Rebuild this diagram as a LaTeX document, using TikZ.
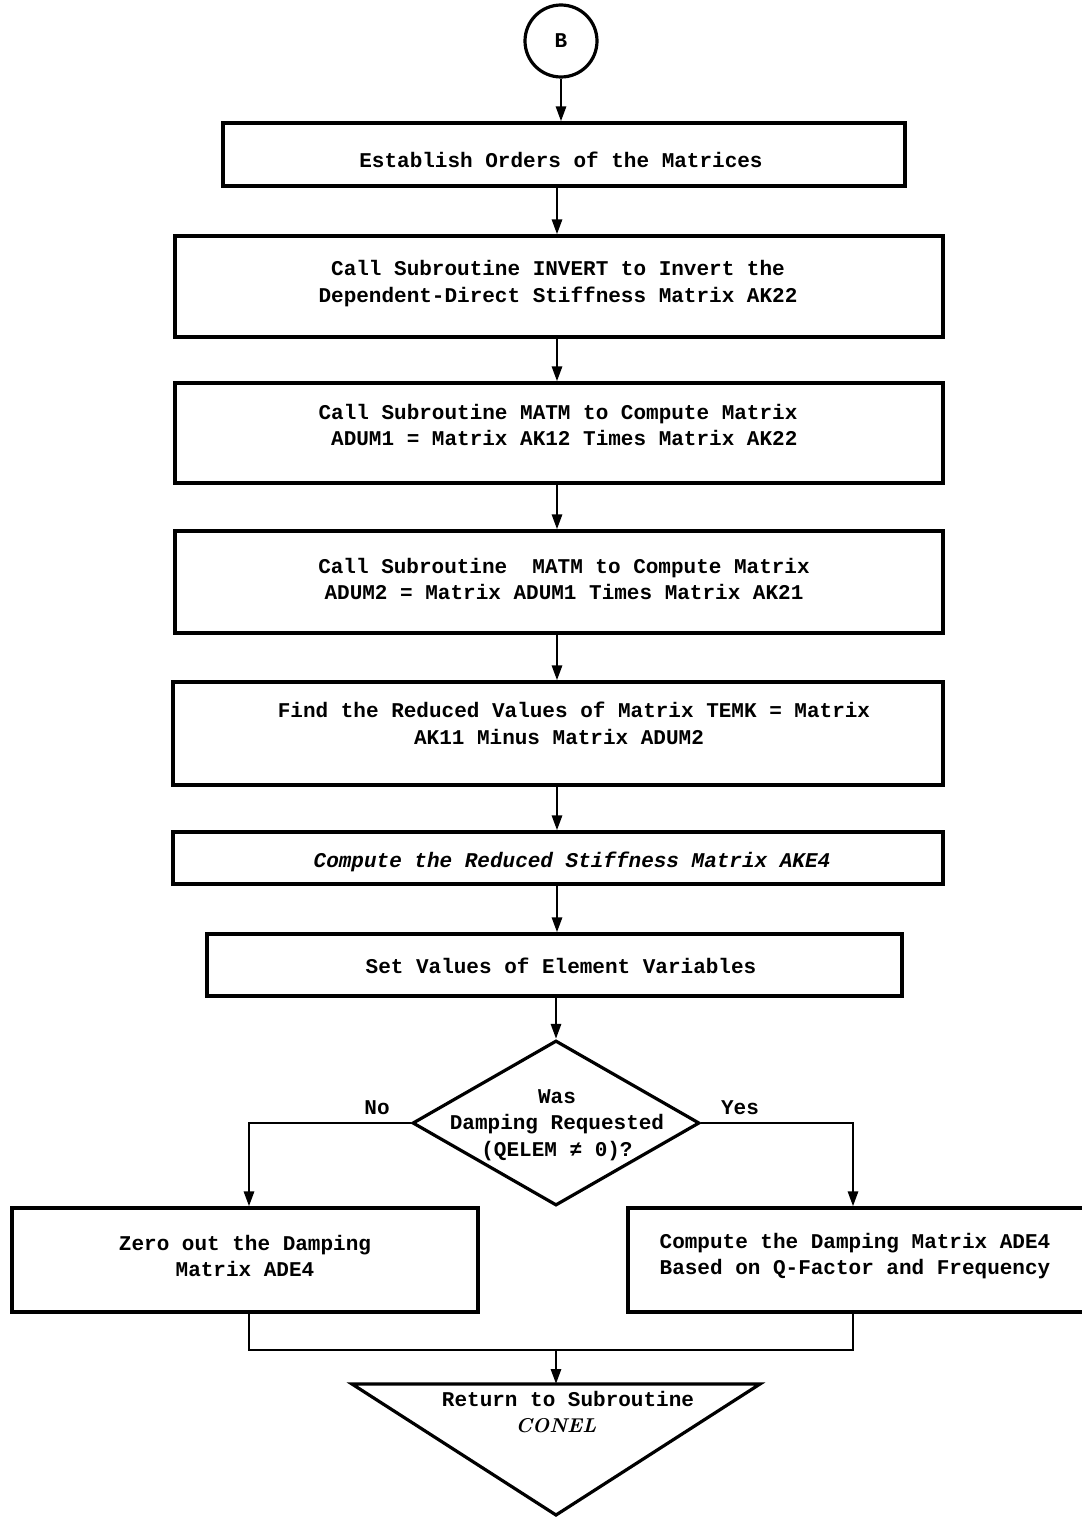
\documentclass[tikz,border=0pt]{standalone}
\usepackage{fontspec}
\setmonofont{Liberation Mono}
\usetikzlibrary{shapes.geometric,arrows.meta}
\begin{document}
\begin{tikzpicture}[x=1pt,y=-1pt,
  box/.style={draw, line width=3.2pt, rectangle, inner sep=0pt},
  txt/.style={font=\ttfamily\bfseries\fontsize{21}{26.5}\selectfont, align=center, inner sep=0pt},
  itxt/.style={font=\ttfamily\bfseries\itshape\fontsize{21}{26.5}\selectfont, align=center, inner sep=0pt},
  arr/.style={line width=2.8pt, -{Triangle[length=15pt,width=10pt]}},
  ln/.style={line width=2.8pt}]
\useasboundingbox (0,0) rectangle (1081,1517);
\coordinate (spine) at (557,0);
% connector node
\node[draw, circle, line width=3.2pt, minimum size=72pt, inner sep=0pt, font=\ttfamily\bfseries\fontsize{21}{26}\selectfont] (B) at (561,41) {B};
% boxes
\node[box, minimum width=682pt, minimum height=63pt] (b1) at (564,154.5) {};
\node[box, minimum width=768pt, minimum height=101pt] (b2) at (559,286.5) {};
\node[box, minimum width=768pt, minimum height=100pt] (b3) at (559,433) {};
\node[box, minimum width=768pt, minimum height=102pt] (b4) at (559,582) {};
\node[box, minimum width=770pt, minimum height=103pt] (b5) at (558,733.5) {};
\node[box, minimum width=770pt, minimum height=52pt] (b6) at (558,858) {};
\node[box, minimum width=695pt, minimum height=62pt] (b7) at (554.5,965) {};
\node[draw, diamond, line width=3.2pt, minimum width=287pt, minimum height=165pt, inner sep=0pt] (d) at (556,1123) {};
\node[box, minimum width=466pt, minimum height=104pt] (b8) at (245,1260) {};
\node[box, minimum width=462pt, minimum height=104pt] (b9) at (859,1260) {};
% return triangle
\coordinate (tl) at (352,1384);
\coordinate (tr) at (760,1384);
\coordinate (tb) at (556,1515);
\draw[line width=3.2pt, line join=miter] (tl) -- (tr) -- (tb) -- cycle;
\coordinate (ret) at (556,1384);
% texts
\node[txt] (t1) at (561,160) {Establish Orders of the Matrices};
\node[txt] (t2) at (558,283.5) {Call Subroutine INVERT to Invert the\\Dependent-Direct Stiffness Matrix AK22};
\node[txt] (t3) at (558,425) {Call Subroutine MATM to Compute Matrix\\\ ADUM1 = Matrix AK12 Times Matrix AK22};
\node[txt] (t4) at (564,579) {Call Subroutine\ \ MATM to Compute Matrix\\ADUM2 = Matrix ADUM1 Times Matrix AK21};
\node[txt] (t5) at (574,723.5) {Find the Reduced Values of Matrix TEMK = Matrix\\AK11 Minus Matrix ADUM2\hspace*{30pt}};
\node[itxt] (t6) at (572,862) {Compute the Reduced Stiffness Matrix AKE4};
\node[txt] (t7) at (561,966) {Set Values of Element Variables};
\node[txt] (td) at (557,1125) {Was\\Damping Requested\\(QELEM ≠ 0)?};
\node[txt] (tno) at (377,1108) {No};
\node[txt] (tyes) at (740,1108) {Yes};
\node[txt] (t8) at (245,1256) {Zero out the Damping\\Matrix ADE4};
\node[txt] (t9) at (855,1256) {Compute the Damping Matrix ADE4\\Based on Q-Factor and Frequency};
\node[txt] (tr1) at (568,1399) {Return to Subroutine};
\node[inner sep=0pt, font=\rmfamily\bfseries\itshape\fontsize{20}{26}\selectfont] (tr2) at (556,1426) {CONEL};
% connectors
\draw[arr] (B.south) -- (B.south |- b1.north);
\draw[arr] (b1.south -| spine) -- (b2.north -| spine);
\draw[arr] (b2.south -| spine) -- (b3.north -| spine);
\draw[arr] (b3.south -| spine) -- (b4.north -| spine);
\draw[arr] (b4.south -| spine) -- (b5.north -| spine);
\draw[arr] (b5.south -| spine) -- (b6.north -| spine);
\draw[arr] (b6.south -| spine) -- (b7.north -| spine);
\draw[arr] (b7.south -| d.north) -- (d.north);
\coordinate (lx) at (249,0);
\coordinate (rx) at (853,0);
\draw[arr] (d.west) -| (b8.north -| lx);
\draw[arr] (d.east) -| (b9.north -| rx);
\coordinate (mL) at (249,1350);
\coordinate (mR) at (853,1350);
\coordinate (mC) at (556,1350);
\draw[ln] (b8.south -| lx) -- (mL) -- (mR) -- (b9.south -| rx);
\draw[arr] (mC) -- (ret);
\end{tikzpicture}
\end{document}
